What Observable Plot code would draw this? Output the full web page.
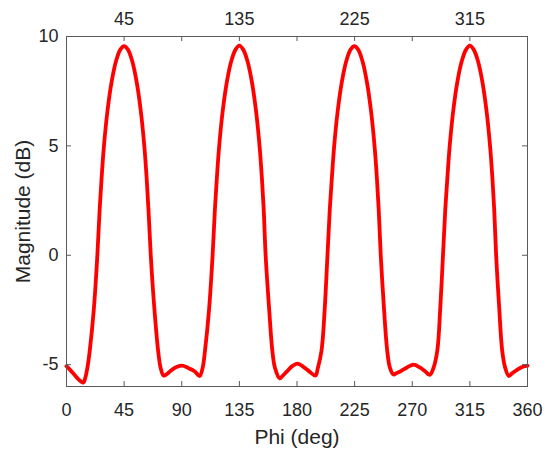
<!DOCTYPE html>
<html><head><meta charset="utf-8">
<script src="https://cdn.jsdelivr.net/npm/d3@7"></script>
<script src="https://cdn.jsdelivr.net/npm/@observablehq/plot@0.6"></script>
<style>body{margin:0;background:#fff}</style>
</head><body><div id="chart"></div>
<script>
const phi = [
  0, 3, 6, 9, 11.5, 13.2, 14.6,
  16.3, 18.2, 21.3, 24.1, 25.9, 27.5, 29.1, 32.0, 35.3, 38.8, 42, 45, 48, 51.2, 54.7, 58, 60.9, 62.5, 64.0, 65.8, 68.7, 71.5, 73.5,
  75.8, 78, 81, 85, 90, 95, 100, 104,
  106.3, 108.2, 111.3, 114.1, 115.9, 117.5, 119.1, 122, 125.3, 128.8, 132, 135, 138, 141.2, 144.7, 148, 150.9, 152.5, 154, 155.5, 158.3, 160.7, 162.8,
  166.5, 169, 172, 176, 180.5, 185, 190, 194.4,
  196.3, 199.2, 201.6, 203.8, 205.6, 207.3, 208.9, 211.8, 215.1, 218.6, 221.8, 224.8, 227.8, 231, 234.5, 237.8, 240.7, 242.3, 243.8, 245.4, 248, 250.4, 252.6,
  255.3, 258, 261, 266, 271, 276, 280, 283.7,
  286.6, 289.6, 291.8, 294, 295.8, 297.5, 299.1, 302, 305.3, 308.8, 312, 315, 318, 321.2, 324.7, 328, 330.9, 332.5, 334, 335.5, 338, 340.2, 342.6,
  345.4, 348, 351, 355, 360
];
const magnitude = [
  -5.07, -5.25, -5.45, -5.65, -5.78, -5.82, -5.62,
  -5.15, -4.34, -2.5, 0, 2.1, 3.6, 4.9, 6.6, 7.95, 8.9, 9.4, 9.56, 9.4, 8.9, 7.95, 6.6, 4.9, 3.6, 2.1, 0, -2.5, -4.34, -5.15,
  -5.5, -5.45, -5.3, -5.13, -5.05, -5.15, -5.3, -5.52,
  -5.15, -4.34, -2.5, 0, 2.1, 3.6, 4.9, 6.6, 7.95, 8.9, 9.4, 9.58, 9.4, 8.9, 7.95, 6.6, 4.9, 3.6, 2.1, 0, -2.5, -4.34, -5.15,
  -5.63, -5.5, -5.32, -5.08, -4.95, -5.1, -5.33, -5.5,
  -5.15, -4.34, -2.5, 0, 2.1, 3.6, 4.9, 6.6, 7.95, 8.9, 9.4, 9.56, 9.4, 8.9, 7.95, 6.6, 4.9, 3.6, 2.1, 0, -2.5, -4.34, -5.15,
  -5.45, -5.38, -5.3, -5.13, -5.0, -5.13, -5.3, -5.47,
  -5.15, -4.34, -2.5, 0, 2.1, 3.6, 4.9, 6.6, 7.95, 8.9, 9.4, 9.58, 9.4, 8.9, 7.95, 6.6, 4.9, 3.6, 2.1, 0, -2.5, -4.34, -5.15,
  -5.52, -5.4, -5.27, -5.13, -5.05
];
const xTicks = [0, 45, 90, 135, 180, 225, 270, 315, 360];
const xTopTicks = [45, 135, 225, 315];
const yTicks = [-5, 0, 5, 10];
const xLabel = "Phi (deg)";
const yLabel = "Magnitude (dB)";

const data = phi.map((p, i) => ({phi: p, mag: magnitude[i]}));
const W = 550, H = 455, mL = 66, mR = 23, mT = 36, mB = 69;
const pw = W - mL - mR, ph = H - mT - mB;
const axisColor = "#5a5a5a";
const textColor = "#262626";
const chart = Plot.plot({
  width: W, height: H,
  marginLeft: mL, marginRight: mR, marginTop: mT, marginBottom: mB,
  style: {fontFamily: "'Liberation Sans', Arial, sans-serif", fontSize: "18px", color: textColor, background: "#fff"},
  x: {domain: [0, 360], axis: null},
  y: {domain: [-6, 10], axis: null},
  marks: [
    Plot.line(data, {x: "phi", y: "mag", stroke: "#ff0000", strokeWidth: 3.8, curve: "catmull-rom"}),
    Plot.frame({stroke: axisColor}),
    Plot.tickX(xTicks, {x: d => d, stroke: axisColor, insetTop: ph - 5}),
    Plot.tickX(xTicks, {x: d => d, stroke: axisColor, insetBottom: ph - 5}),
    Plot.tickY(yTicks, {y: d => d, stroke: axisColor, insetRight: pw - 5}),
    Plot.tickY(yTicks, {y: d => d, stroke: axisColor, insetLeft: pw - 5}),
    Plot.text(xTicks, {x: d => d, text: d => String(d), frameAnchor: "bottom", lineAnchor: "top", textAnchor: "middle", dy: 17, fontSize: 18, fill: textColor}),
    Plot.text(xTopTicks, {x: d => d, text: d => String(d), frameAnchor: "top", lineAnchor: "bottom", textAnchor: "middle", dy: -12, fontSize: 18, fill: textColor}),
    Plot.text(yTicks, {y: d => d, text: d => String(d), frameAnchor: "left", lineAnchor: "middle", textAnchor: "end", dx: -8, fontSize: 18, fill: textColor}),
    Plot.text([xLabel], {text: d => d, frameAnchor: "bottom", dy: 57, lineAnchor: "bottom", textAnchor: "middle", fontSize: 21, fill: textColor}),
    Plot.text([yLabel], {text: d => d, frameAnchor: "left", dx: -36.5, rotate: -90, lineAnchor: "bottom", textAnchor: "middle", fontSize: 21, fill: textColor})
  ]
});
document.getElementById("chart").append(chart);
</script>
</body></html>
